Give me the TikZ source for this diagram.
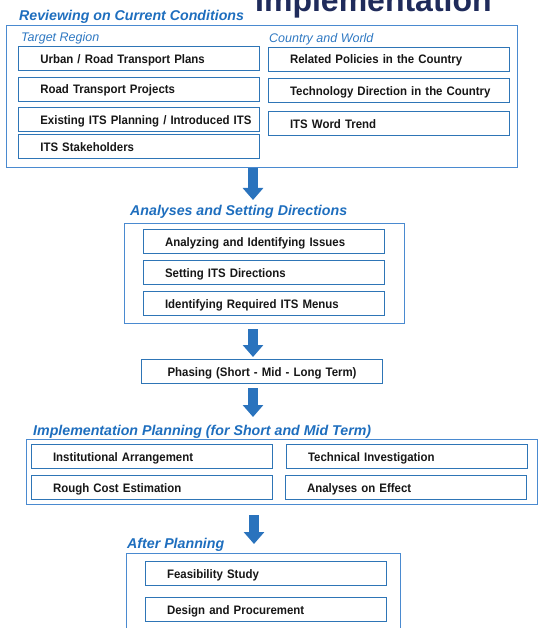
\documentclass[tikz,border=0pt]{standalone}
\usepackage{fontspec}
\setmainfont{Liberation Sans}
\newfontfamily\boxfont[FakeStretch=0.93]{Liberation Sans}
\usetikzlibrary{arrows.meta}

\definecolor{innerline}{HTML}{2E75B6}
\definecolor{outerline}{HTML}{4A8AD0}
\definecolor{headblue}{HTML}{1E6EBE}
\definecolor{subblue}{HTML}{2E78C2}
\definecolor{flowblue}{HTML}{2A73BD}
\definecolor{navy}{HTML}{1F2B5B}
\definecolor{itemtext}{HTML}{161616}

\tikzset{
  panel/.style={draw=outerline, line width=1.3pt, inner sep=0pt, anchor=north west},
  itembase/.style={draw=innerline, line width=1.1pt, anchor=north west,
    inner xsep=0pt, inner ysep=0pt, text width=241pt, minimum height=24pt,
    text height=9.3pt, text depth=0pt, text=itemtext,
    font=\boxfont\bfseries\fontsize{12.3}{14}\selectfont},
  item/.style={itembase, align=left, execute at begin node={\hspace*{21.5pt}}},
  centreditem/.style={itembase, align=center},
  heading/.style={anchor=base west, inner sep=0pt, text=headblue,
    font=\bfseries\itshape\fontsize{14.2}{16}\selectfont},
  subheading/.style={anchor=base west, inner sep=0pt, text=subblue,
    font=\itshape\fontsize{12.5}{15}\selectfont},
  flow/.style={draw=flowblue, line width=10pt,
    -{Triangle[width=20pt,length=12pt]}}
}

\begin{document}
\begin{tikzpicture}[x=1pt,y=-1pt]
\useasboundingbox (0,0) rectangle (538,628);
\clip (0,0) rectangle (538,628);

% slide title running above the chart
\node[anchor=base west, inner sep=0pt, text=navy,
      font=\bfseries\fontsize{32}{36}\selectfont] (slidetitle) at (255,12) {Implementation};

% ---- Reviewing on Current Conditions ----
\node[heading] (h1) at (19,20.5) {Reviewing on Current Conditions};
\node[panel, minimum width=511.3pt, minimum height=142pt] (review) at (5.7,24.7) {};
\node[subheading] (target) at (21,41.7) {Target Region};
\node[subheading] (country) at (269,42.7) {Country and World};

\node[item] (r1) at (18.3,46)  {Urban / Road Transport Plans};
\node[item] (r2) at (18.3,76.7) {Road Transport Projects};
\node[item] (r3) at (18.3,107) {Existing ITS Planning / Introduced ITS};
\node[item] (r4) at (18.3,134) {ITS Stakeholders};

\node[item] (c1) at (268,46.7) {Related Policies in the Country};
\node[item] (c2) at (268,78)   {Technology Direction in the Country};
\node[item] (c3) at (268,111)  {ITS Word Trend};

% ---- Analyses and Setting Directions ----
\node[heading] (h2) at (130,215) {Analyses and Setting Directions};
\node[panel, minimum width=280pt, minimum height=100pt] (analyses) at (124,223) {};
\node[item] (a1) at (143,229) {Analyzing and Identifying Issues};
\node[item] (a2) at (143,260) {Setting ITS Directions};
\node[item] (a3) at (143,291) {Identifying Required ITS Menus};

% ---- Phasing ----
\node[centreditem] (phasing) at (141,359) {Phasing (Short - Mid - Long Term)};

% ---- Implementation Planning ----
\node[heading] (h3) at (33,435) {Implementation Planning (for Short and Mid Term)};
\node[panel, minimum width=511pt, minimum height=65pt] (implan) at (26,439) {};
\node[item] (i1) at (31,444)  {Institutional Arrangement};
\node[item] (i2) at (31,475)  {Rough Cost Estimation};
\node[item] (i3) at (286,444) {Technical Investigation};
\node[item] (i4) at (285,475) {Analyses on Effect};

% ---- After Planning ----
\node[heading] (h4) at (127,548) {After Planning};
\node[panel, minimum width=274pt, minimum height=100pt] (after) at (126,553) {};
\node[item] (p1) at (145,561) {Feasibility Study};
\node[item] (p2) at (145,597) {Design and Procurement};

% ---- flow arrows between the stages ----
\coordinate (f1s) at (253,168); \coordinate (f1e) at (253,200);
\coordinate (f2s) at (253,329); \coordinate (f2e) at (253,357);
\coordinate (f3s) at (253,388); \coordinate (f3e) at (253,417);
\coordinate (f4s) at (254,515); \coordinate (f4e) at (254,544);
\draw[flow] (f1s) -- (f1e);
\draw[flow] (f2s) -- (f2e);
\draw[flow] (f3s) -- (f3e);
\draw[flow] (f4s) -- (f4e);
\end{tikzpicture}
\end{document}
